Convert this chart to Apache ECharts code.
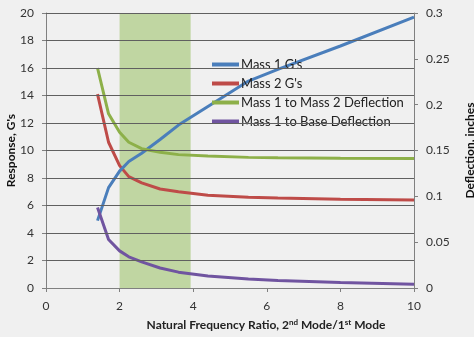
<!DOCTYPE html>
<html><head><meta charset="utf-8">
<script src="https://cdn.jsdelivr.net/npm/echarts@6/dist/echarts.min.js"></script>
<style>html,body{margin:0;padding:0;background:#f0f0f0;}#c{width:474px;height:337px;}</style>
</head><body><div id="c"></div>
<script>
const ratio = [1.4, 1.7, 2.0, 2.25, 2.6, 3.1, 3.6, 4.4, 5.5, 6.3, 8, 10];
const mass1G = [4.9, 7.3, 8.5, 9.2, 9.8, 10.8, 11.85, 13.2, 15.05, 15.9, 17.6, 19.7];
const mass2G = [14.1, 10.6, 8.9, 8.1, 7.65, 7.2, 7.0, 6.75, 6.6, 6.55, 6.45, 6.4];
const m1toM2Defl = [0.240, 0.19, 0.17, 0.159, 0.152, 0.148, 0.1455, 0.144, 0.1425, 0.142, 0.1416, 0.1413];
const m1toBaseDefl = [0.0878, 0.053, 0.0405, 0.034, 0.0285, 0.0218, 0.0173, 0.013, 0.0098, 0.0083, 0.006, 0.004];
const band = [2, 3.93];
const gridValues = [2, 4, 6, 8, 10, 12, 14, 16, 18, 20];
const seriesNames = ["Mass 1 G's", "Mass 2 G's", "Mass 1 to Mass 2 Deflection", "Mass 1 to Base Deflection"];

const pairs = ys => ratio.map((x, i) => [x, ys[i]]);
const font = 'Lato, "Open Sans", sans-serif';
const chart = echarts.init(document.getElementById('c'));
const lineSeries = (name, ys, color, yi) => ({
  name, type: 'line', data: pairs(ys), yAxisIndex: yi, symbol: 'none', z: 3,
  lineStyle: { color, width: 3 }, itemStyle: { color }
});
chart.setOption({
  backgroundColor: '#f0f0f0',
  animation: false,
  textStyle: { fontFamily: font },
  grid: { left: 46, right: 60, top: 13, bottom: 49, containLabel: false, outerBoundsMode: 'none' },
  legend: {
    orient: 'vertical', left: 207, top: 53, icon: 'rect', itemWidth: 27, itemHeight: 4, itemGap: 6,
    data: seriesNames,
    textStyle: { fontFamily: font, fontSize: 13, color: '#222', padding: [0, 0, 0, -3] }
  },
  xAxis: {
    type: 'value', min: 0, max: 10, interval: 2,
    name: 'Natural Frequency Ratio, 2{sup|nd} Mode/1{sup|st} Mode',
    nameLocation: 'middle', nameGap: 30, nameMoveOverlap: false,
    nameTextStyle: { fontFamily: font, fontSize: 12, fontWeight: 'bold', color: '#222', padding: [0, 0, 0, 72],
      rich: { sup: { fontSize: 8, fontWeight: 'bold', verticalAlign: 'top', padding: [0, 0, 6, 0], color: '#222' } } },
    axisLine: { lineStyle: { color: '#808080' } },
    axisTick: { lineStyle: { color: '#808080' }, length: 4 },
    axisLabel: { color: '#333', fontSize: 12, margin: 12, fontFamily: font },
    splitLine: { show: false }
  },
  yAxis: [{
    type: 'value', min: 0, max: 20, interval: 2,
    name: "Response, G's", nameLocation: 'middle', nameGap: 29, nameRotate: 90, nameMoveOverlap: false,
    nameTextStyle: { fontFamily: font, fontSize: 12, fontWeight: 'bold', color: '#111' },
    axisLine: { show: true, lineStyle: { color: '#808080' } },
    axisTick: { show: true, lineStyle: { color: '#808080' }, length: 4 },
    axisLabel: { color: '#333', fontSize: 12, margin: 12, fontFamily: font },
    splitLine: { show: true, lineStyle: { color: '#555555', width: 1, opacity: 1 } }
  }, {
    type: 'value', min: 0, max: 0.3, interval: 0.05, position: 'right',
    name: 'Deflection, inches', nameLocation: 'middle', nameGap: 50, nameRotate: 90, nameMoveOverlap: false,
    nameTextStyle: { fontFamily: font, fontSize: 12, fontWeight: 'bold', color: '#111' },
    axisLine: { show: true, lineStyle: { color: '#808080' } },
    axisTick: { show: true, lineStyle: { color: '#808080' }, length: 4 },
    axisLabel: { color: '#333', fontSize: 12, margin: 12, fontFamily: font, formatter: v => String(+v.toFixed(2)) },
    splitLine: { show: false }
  }],
  series: [
    { type: 'line', data: [], z: 1, silent: true,
      markArea: { silent: true, itemStyle: { color: 'rgba(160,196,110,0.6)' }, data: [[{ xAxis: band[0] }, { xAxis: band[1] }]] } },
    Object.assign(lineSeries(seriesNames[1], mass2G, '#be4b48', 0), {
      markLine: { silent: true, symbol: 'none', label: { show: false }, animation: false,
        lineStyle: { color: '#606060', width: 1, type: 'solid', opacity: 1 },
        emphasis: { disabled: true },
        data: gridValues.map(v => ({ yAxis: v })) } }),
    lineSeries(seriesNames[0], mass1G, '#4a7ebb', 0),
    lineSeries(seriesNames[2], m1toM2Defl, '#8db049', 1),
    lineSeries(seriesNames[3], m1toBaseDefl, '#7054a0', 1)
  ]
});
</script></body></html>
